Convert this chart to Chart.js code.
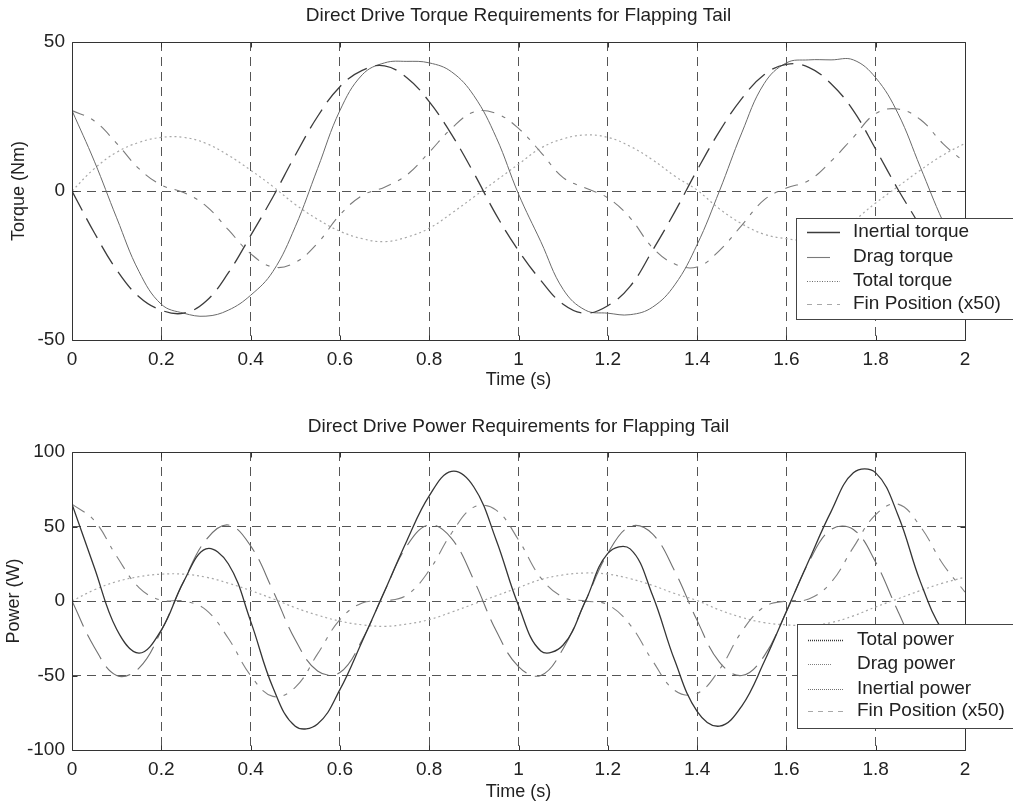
<!DOCTYPE html>
<html>
<head>
<meta charset="utf-8">
<script src="https://cdn.jsdelivr.net/npm/chart.js@4/dist/chart.umd.min.js"></script>
<style>
  html, body { margin: 0; padding: 0; background: #ffffff; }
  #wrap { position: relative; width: 1013px; height: 804px; overflow: hidden; }
  canvas { position: absolute; left: 0; }
  #c1 { top: 0; }
  #c2 { top: 402px; }
</style>
</head>
<body>
<div id="wrap">
  <canvas id="c1" width="1013" height="402"></canvas>
  <canvas id="c2" width="1013" height="402"></canvas>
</div>
<script>
// ---------------- DATA ----------------
const time = [0, 0.05, 0.1, 0.15, 0.2, 0.25, 0.3, 0.35, 0.4, 0.45, 0.5, 0.55, 0.6, 0.65, 0.7, 0.75, 0.8, 0.85, 0.9, 0.95,
              1, 1.05, 1.1, 1.15, 1.2, 1.25, 1.3, 1.35, 1.4, 1.45, 1.5, 1.55, 1.6, 1.65, 1.7, 1.75, 1.8, 1.85, 1.9, 1.95, 2];

// Torque chart (Nm)
const inertialTorque = [0, -14, -26.5, -35.5, -40, -41, -37, -27.5, -15, -2, 12, 25, 35, 40.5, 42, 38, 30, 19, 6, -8,
                        -20, -30, -38, -41, -38.5, -32, -20, -7, 7, 20, 31, 39, 42.5, 41.5, 36, 27, 14, 0.5, -12, -26, -35];
const dragTorque = [27, 23.5, 16, 7.5, 2, -0.5, -5, -13, -21, -25.5, -24, -17.5, -8, -1.5, 1.3, 5.4, 13, 21, 26.5, 26,
                    21, 13, 4.5, 1, -2.3, -9, -19, -24.5, -25.5, -20, -11.5, -3, 1, 3.5, 10, 18, 26, 27.5, 24, 16, 9.5];
const totalTorque = [27, 10, -9, -27, -38, -41, -42, -40, -35, -27, -12, 7.5, 27, 39, 43, 43.5, 43, 40, 32, 18,
                     -1, -17, -33, -40, -41, -41.5, -39, -31.5, -18, 0, 19.5, 36, 43, 44, 44, 44, 38, 26, 8, -10, -25];
const finPosition = [0, 7.5, 13, 16.3, 18, 18, 16, 12, 7, 1.5, -4.5, -9.5, -13.5, -16, -17, -15.5, -12.5, -7.5, -2, 3.5,
                     9, 14.4, 17.5, 18.8, 18, 15, 10.5, 5, 0.3, -6, -11, -14.5, -16, -16.5, -14.5, -10, -4, 1.5, 7, 12, 16];

// Power chart (W)
const totalPower = [65, 22.5, -19, -35, -19.5, 13, 35, 25, -13.5, -58, -84, -82.5, -59.5, -27, 6.5, 40.5, 70.5, 87, 76.5, 41,
                    -3, -33.5, -29.5, 0, 32, 35, 4, -40, -74, -84, -70.5, -41, -7, 27, 60, 86, 86, 57.6, 13, -20, -35];
const dragPower = [65, 54, 30, 9, 0.5, 0, -6, -25, -50, -64, -58, -35.5, -12.5, -1.3, 0, 4, 20.5, 45.5, 63, 61,
                   41, 15.5, 2.5, 0, -2.5, -16, -40, -60, -62, -46, -20.5, -4, 0, 1.3, 12.5, 36, 58, 65, 50, 25, 6];
const inertialPower = [0, -31, -50, -45, -20, 13, 41, 51, 37, 7, -26, -47, -48, -26, 6.5, 37, 51, 42, 14, -20,
                       -44, -50, -32, 0, 32, 50, 45, 20, -13, -41, -50, -37, -7, 26, 48, 48, 26, -7, -37, -50, -42];
const finPositionPower = finPosition;

// Tick labels
const xTickLabels = ['0', '0.2', '0.4', '0.6', '0.8', '1', '1.2', '1.4', '1.6', '1.8', '2'];
const torqueTickLabels = ['-50', '0', '50'];
const powerTickLabels = ['-100', '-50', '0', '50', '100'];

// Labels / titles
const torqueLabels = ['Inertial torque', 'Drag torque', 'Total torque', 'Fin Position (x50)'];
const powerLabels = ['Total power', 'Drag power', 'Inertial power', 'Fin Position (x50)'];
const torqueTitle = 'Direct Drive Torque Requirements for Flapping Tail';
const powerTitle = 'Direct Drive Power Requirements for Flapping Tail';

// ---------------- RENDERING ----------------
const FONT = '"Liberation Sans", Arial, Helvetica, sans-serif';
const TEXT = '#222222';

function pts(vals) { return time.map((t, i) => ({ x: t, y: vals[i] })); }

const framePlugin = {
  id: 'frame',
  afterDatasetsDraw(chart, args, opts) {
    const { ctx, chartArea: a, scales: { x, y } } = chart;
    ctx.save();
    ctx.setLineDash([]);
    ctx.strokeStyle = '#333333';
    ctx.lineWidth = 1;
    const L = Math.round(a.left) + 0.5, R = Math.round(a.right) + 0.5;
    const T = Math.round(a.top) + 0.5, B = Math.round(a.bottom) + 0.5;
    ctx.beginPath();
    ctx.rect(L, T, R - L, B - T);
    ctx.stroke();
    // inward tick marks
    ctx.beginPath();
    x.ticks.forEach(t => {
      const p = Math.round(x.getPixelForValue(t.value)) + 0.5;
      ctx.moveTo(p, B); ctx.lineTo(p, B - 5);
      ctx.moveTo(p, T); ctx.lineTo(p, T + 5);
    });
    y.ticks.forEach(t => {
      const p = Math.round(y.getPixelForValue(t.value)) + 0.5;
      ctx.moveTo(L, p); ctx.lineTo(L + 5, p);
      ctx.moveTo(R, p); ctx.lineTo(R - 5, p);
    });
    ctx.stroke();

    // title, centred over the plot box
    ctx.fillStyle = TEXT;
    ctx.font = '19px ' + FONT;
    ctx.textAlign = 'center';
    ctx.textBaseline = 'alphabetic';
    ctx.fillText(opts.title, (a.left + a.right) / 2, opts.titleBaseline);

    // legend box
    const lg = opts.legend;
    ctx.fillStyle = '#ffffff';
    ctx.fillRect(lg.left, lg.top, lg.right - lg.left, lg.bottom - lg.top);
    ctx.strokeStyle = '#444444';
    ctx.strokeRect(lg.left + 0.5, lg.top + 0.5, lg.right - lg.left, lg.bottom - lg.top);
    ctx.font = '19px ' + FONT;
    ctx.textBaseline = 'middle';
    ctx.textAlign = 'left';
    chart.data.datasets.forEach((ds, i) => {
      const yy = lg.rowY[i];
      ctx.strokeStyle = ds.borderColor;
      ctx.lineWidth = ds.borderWidth;
      ctx.setLineDash(ds.legendDash || []);
      ctx.beginPath();
      ctx.moveTo(lg.lineX0, yy + 0.5);
      ctx.lineTo(lg.lineX0 + (ds.legendLen || lg.lineLen), yy + 0.5);
      ctx.stroke();
      ctx.setLineDash([]);
      ctx.fillStyle = TEXT;
      ctx.fillText(ds.label, lg.textX, yy);
    });
    ctx.restore();
  }
};

function gridColor(c) {
  const s = c.scale;
  if (c.tick && (Math.abs(c.tick.value - s.min) < 1e-9 || Math.abs(c.tick.value - s.max) < 1e-9)) return 'rgba(0,0,0,0)';
  return '#555555';
}

function makeChart(id, cfg) {
  return new Chart(document.getElementById(id), {
    type: 'line',
    data: { datasets: cfg.datasets },
    plugins: [framePlugin],
    options: {
      responsive: false,
      animation: false,
      devicePixelRatio: 1,
      elements: { point: { radius: 0 }, line: { tension: 0.4, fill: false } },
      layout: { padding: { left: 0, right: 48, top: cfg.padTop, bottom: 0 } },
      plugins: {
        legend: { display: false },
        tooltip: { enabled: false },
        title: { display: false },
        frame: { legend: cfg.legend, title: cfg.title, titleBaseline: cfg.titleBaseline }
      },
      scales: {
        x: {
          type: 'linear', min: 0, max: 2,
          afterFit: s => { s.height = cfg.xHeight; },
          ticks: {
            stepSize: 0.2, padding: 8, color: TEXT, autoSkip: false, maxRotation: 0,
            font: { family: FONT, size: 19 },
            callback: (v, i) => xTickLabels[i]
          },
          grid: { drawTicks: false, color: gridColor, lineWidth: 1 },
          border: { display: false, dash: [9, 6] },
          title: {
            display: true, text: 'Time (s)', color: TEXT,
            font: { family: FONT, size: 18 }, padding: { top: 0, bottom: cfg.xTitleBottom }
          }
        },
        y: {
          type: 'linear', min: cfg.yMin, max: cfg.yMax,
          afterFit: s => { s.width = 72; },
          ticks: {
            stepSize: 50, padding: 7, color: TEXT,
            font: { family: FONT, size: 19 },
            callback: (v, i) => cfg.yTicks[i]
          },
          grid: { drawTicks: false, color: gridColor, lineWidth: 1 },
          border: { display: false, dash: [9, 6] },
          title: {
            display: true, text: cfg.yTitle, color: TEXT,
            font: { family: FONT, size: 18 }, padding: { top: cfg.yTitleTop, bottom: 0 }
          }
        }
      }
    }
  });
}

makeChart('c1', {
  title: torqueTitle, titleBaseline: 21, padTop: 42,
  xHeight: 62, xTitleBottom: 11,
  yMin: -50, yMax: 50, yTicks: torqueTickLabels, yTitle: 'Torque (Nm)', yTitleTop: 8,
  legend: { left: 796, top: 218, right: 1016, bottom: 319, rowY: [232, 257, 281, 304], lineX0: 807, lineLen: 33, textX: 853 },
  datasets: [
    { label: torqueLabels[0], data: pts(inertialTorque), borderColor: '#3c3c3c', borderWidth: 1.3, borderDash: [22, 9], legendDash: [] },
    { label: torqueLabels[1], data: pts(dragTorque), borderColor: '#7a7a7a', borderWidth: 1.1, borderDash: [13, 8, 4, 8], legendDash: [], legendLen: 23 },
    { label: torqueLabels[2], data: pts(totalTorque), borderColor: '#6a6a6a', borderWidth: 1, borderDash: [], legendDash: [1, 1.5] },
    { label: torqueLabels[3], data: pts(finPosition), borderColor: '#a8a8a8', borderWidth: 1.2, borderDash: [2, 3], legendDash: [5, 5] }
  ]
});

makeChart('c2', {
  title: powerTitle, titleBaseline: 30, padTop: 50,
  xHeight: 54, xTitleBottom: 1,
  yMin: -100, yMax: 100, yTicks: powerTickLabels, yTitle: 'Power (W)', yTitleTop: 3,
  legend: { left: 797, top: 222, right: 1016, bottom: 326, rowY: [238, 262, 287, 309], lineX0: 808, lineLen: 35, textX: 857 },
  datasets: [
    { label: powerLabels[0], data: pts(totalPower), borderColor: '#353535', borderWidth: 1.3, borderDash: [], legendDash: [1, 1] },
    { label: powerLabels[1], data: pts(dragPower), borderColor: '#808080', borderWidth: 1.1, borderDash: [15, 8, 4, 8], legendDash: [1, 1], legendLen: 24 },
    { label: powerLabels[2], data: pts(inertialPower), borderColor: '#707070', borderWidth: 1.1, borderDash: [28, 9], legendDash: [1, 1] },
    { label: powerLabels[3], data: pts(finPositionPower), borderColor: '#a8a8a8', borderWidth: 1.2, borderDash: [2, 3], legendDash: [5, 5] }
  ]
});
</script>
</body>
</html>
